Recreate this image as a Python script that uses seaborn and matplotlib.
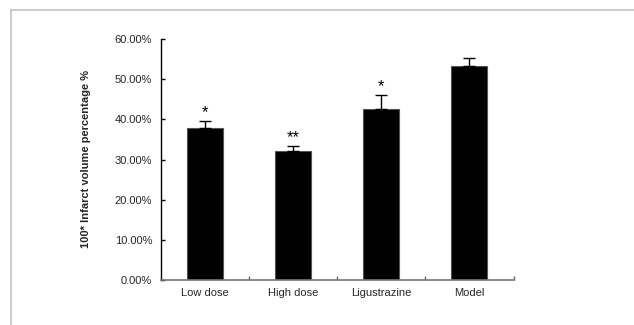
import numpy as np
import pandas as pd
import matplotlib.pyplot as plt
import seaborn as sns
from matplotlib.ticker import FuncFormatter
from matplotlib.patches import Rectangle

groups = ["Low dose", "High dose", "Ligustrazine", "Model"]
infarct = [37.9, 32.0, 42.6, 53.4]
err_up = [1.8, 1.4, 3.4, 1.9]
marks = ["*", "**", "*", ""]

sns.set_theme(style="white")
plt.rcParams['font.family'] = ['Liberation Sans', 'DejaVu Sans']

df = pd.DataFrame({"group": groups, "value": infarct})

fig = plt.figure(figsize=(6.34, 3.25), dpi=100)
# light grey frame of the original figure box
fig.patches.append(Rectangle((11 / 634, -0.1), 1.2, 1 - 10 / 325 + 0.1,
                             transform=fig.transFigure, fill=False,
                             edgecolor="#cccccc", linewidth=1.5))
ax = fig.add_axes([160.5 / 634, 1 - 280 / 325, 353 / 634, 241 / 325])

sns.barplot(data=df, x="group", y="value", color="black", width=0.41,
            edgecolor="#555555", linewidth=0.8, saturation=1, ax=ax)
ax.errorbar(range(len(groups)), infarct, yerr=[np.zeros(len(groups)), err_up],
            fmt="none", ecolor="black", elinewidth=1, capsize=4, capthick=1)
for i, m in enumerate(marks):
    if m:
        ax.text(i, infarct[i] + err_up[i] + 0.2, m, ha="center", va="bottom",
                fontsize=12, color="black")

ax.set_xlim(-0.5, 3.5)
ax.set_ylim(0, 60)
ax.set_yticks(np.arange(0, 61, 10))
ax.yaxis.set_major_formatter(FuncFormatter(lambda v, p: f"{v:.2f}%"))
ax.set_xticks([0.5, 1.5, 2.5, 3.5], minor=False)
ax.set_xticks(range(4), minor=True)
ax.set_xticklabels([])
ax.set_xticklabels(groups, minor=True)
ax.tick_params(axis="x", which="major", direction="in", length=3, width=1,
               color="#666666", bottom=True)
ax.tick_params(axis="x", which="minor", length=0, labelsize=8, pad=6)
ax.tick_params(axis="y", direction="in", length=3, width=1, color="black",
               left=True, labelsize=8, pad=6)
ax.set_xlabel("")
ax.set_ylabel("100* Infarct volume percentage %", fontsize=8, fontweight="bold",
              labelpad=17)
for s in ["top", "right"]:
    ax.spines[s].set_visible(False)
ax.spines["left"].set_color("black")
ax.spines["left"].set_linewidth(1)
ax.spines["bottom"].set_color("#777777")
ax.spines["bottom"].set_linewidth(1.2)

fig.savefig("out.png", dpi=100)
